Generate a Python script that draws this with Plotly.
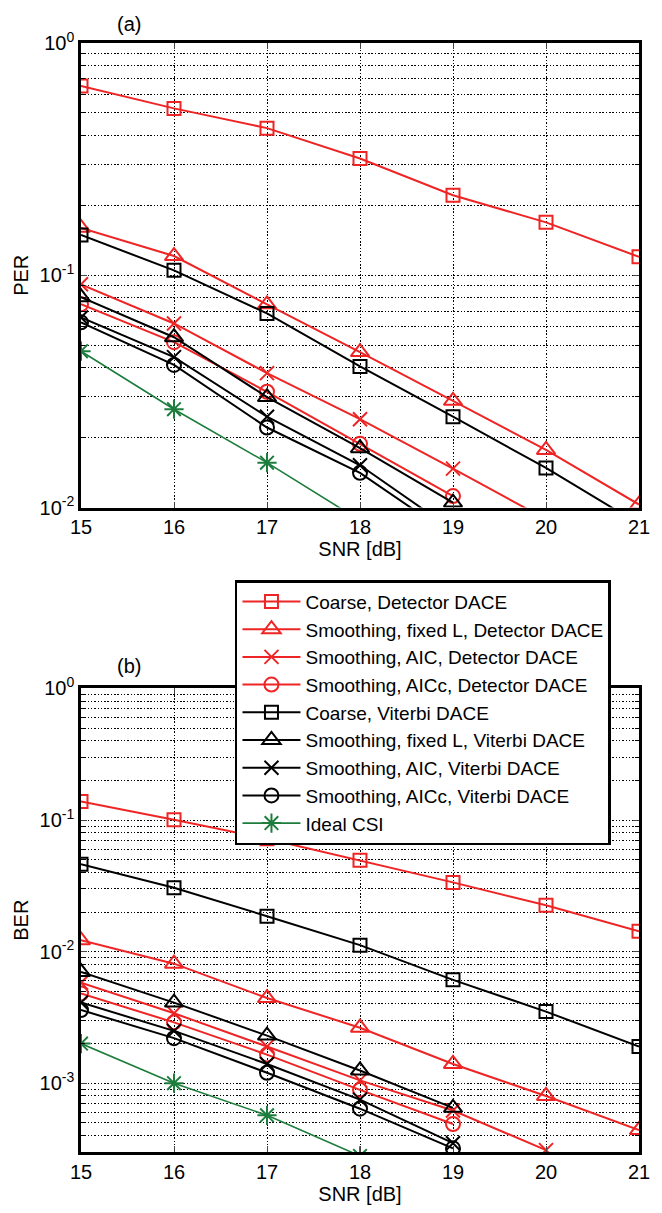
import numpy as np
import plotly.graph_objects as go

SNR = [15, 16, 17, 18, 19, 20, 21]

# PER (panel a)
per_coarse_det = [0.653, 0.523, 0.43, 0.318, 0.221, 0.169, 0.12]
per_fixedL_det = [0.16, 0.121, 0.075, 0.0467, 0.0288, 0.0177, 0.0103]
per_aic_det = [0.0914, 0.062, 0.0379, 0.024, 0.0147, 0.0089]
per_aicc_det = [0.075, 0.0515, 0.0315, 0.0188, 0.0112]
per_coarse_vit = [0.149, 0.105, 0.0685, 0.0405, 0.0246, 0.0148, 0.0085]
per_fixedL_vit = [0.0804, 0.0541, 0.0299, 0.018, 0.0105]
per_aic_vit = [0.0658, 0.0444, 0.0246, 0.0152, 0.008]
per_aicc_vit = [0.0627, 0.0411, 0.0221, 0.0141, 0.0075]
per_ideal = [0.0471, 0.0265, 0.0156, 0.0088]

# BER (panel b)
ber_coarse_det = [0.1386, 0.1007, 0.072, 0.0495, 0.0336, 0.0225, 0.0143]
ber_fixedL_det = [0.0122, 0.0081, 0.00444, 0.00264, 0.0014, 0.0008, 0.00044]
ber_aic_det = [0.0058, 0.0034, 0.0019, 0.00105, 0.00062, 0.00031]
ber_aicc_det = [0.0048, 0.0029, 0.00165, 0.00089, 0.00049]
ber_coarse_vit = [0.0462, 0.0306, 0.0186, 0.0112, 0.0061, 0.0035, 0.0019]
ber_fixedL_vit = [0.007, 0.0041, 0.0023, 0.00125, 0.00065]
ber_aic_vit = [0.0041, 0.0025, 0.0014, 0.00075, 0.00035]
ber_aicc_vit = [0.0036, 0.0022, 0.0012, 0.00064, 0.00032]
ber_ideal = [0.002, 0.001, 0.00057, 0.00028]

names = [
    "Coarse, Detector DACE",
    "Smoothing, fixed L, Detector DACE",
    "Smoothing, AIC, Detector DACE",
    "Smoothing, AICc, Detector DACE",
    "Coarse, Viterbi DACE",
    "Smoothing, fixed L, Viterbi DACE",
    "Smoothing, AIC, Viterbi DACE",
    "Smoothing, AICc, Viterbi DACE",
    "Ideal CSI",
]
RED = "#ee2524"
BLK = "#000000"
GRN = "#1c7d3c"
colors = [RED, RED, RED, RED, BLK, BLK, BLK, BLK, GRN]
symbols = ["square-open", "triangle-up-open", "x-thin-open", "circle-open",
           "square-open", "triangle-up-open", "x-thin-open", "circle-open", "asterisk-open"]
sizes = [13, 16, 14, 14, 13, 16, 14, 14, 16]

per_data = [per_coarse_det, per_fixedL_det, per_aic_det, per_aicc_det,
            per_coarse_vit, per_fixedL_vit, per_aic_vit, per_aicc_vit, per_ideal]
ber_data = [ber_coarse_det, ber_fixedL_det, ber_aic_det, ber_aicc_det,
            ber_coarse_vit, ber_fixedL_vit, ber_aic_vit, ber_aicc_vit, ber_ideal]

fig = go.Figure()
for i in range(9):
    lw = 2 if i != 8 else 1.6
    fig.add_trace(go.Scatter(
        x=SNR[:len(per_data[i])], y=per_data[i], mode="lines+markers",
        line=dict(color=colors[i], width=lw),
        marker=dict(symbol=symbols[i], size=sizes[i], color=colors[i],
                    line=dict(color=colors[i], width=2)),
        name=names[i], showlegend=False, xaxis="x", yaxis="y"))
for i in range(9):
    lw = 2 if i != 8 else 1.6
    fig.add_trace(go.Scatter(
        x=SNR[:len(ber_data[i])], y=ber_data[i], mode="lines+markers",
        line=dict(color=colors[i], width=lw),
        marker=dict(symbol=symbols[i], size=sizes[i], color=colors[i],
                    line=dict(color=colors[i], width=2)),
        name=names[i], showlegend=True,
        xaxis="x2", yaxis="y2"))

FONT = "Liberation Sans, Arial, sans-serif"
FS = 20
LFS = 19

def log_ticks(lo_exp, hi_exp, lo_val):
    major, text, minor = [], [], []
    for e in range(lo_exp, hi_exp + 1):
        for m in range(1, 10):
            v = m * 10.0 ** e
            if v < lo_val * 0.999 or v > 10.0 ** hi_exp * 1.001:
                continue
            if m == 1:
                major.append(v)
                text.append("10<sup>%d</sup>" % e)
            else:
                minor.append(v)
    return major, text, minor

tv1, tt1, mv1 = log_ticks(-2, 0, 0.01)
tv2, tt2, mv2 = log_ticks(-4, 0, 3e-4)

GRID = dict(showgrid=True, gridcolor="black", griddash="1.5px,1.8px", gridwidth=1.3)

common_x = dict(range=[15, 21], tickvals=SNR, ticks="inside", ticklen=6,
                showline=True, linecolor="black", linewidth=2.5, mirror="ticks",
                zeroline=False, tickfont=dict(size=FS, color="black", family=FONT),
                title=dict(text="SNR [dB]", font=dict(size=FS, color="black", family=FONT),
                           standoff=4), **GRID)
common_y = dict(type="log", ticks="inside", ticklen=6,
                showline=True, linecolor="black", linewidth=2.5, mirror="ticks",
                zeroline=False, tickfont=dict(size=FS, color="black", family=FONT), **GRID)

def minor_cfg(vals):
    return dict(tickvals=vals, ticks="inside", ticklen=4, tickcolor="black",
                showgrid=True, gridcolor="black", griddash="1.5px,1.8px", gridwidth=1.3)

H = 1213
t, b = 43, 51
ph = H - t - b

def py(pix):
    return (H - b - pix) / ph

fig.update_layout(
    width=662, height=H,
    margin=dict(l=81, r=12, t=t, b=b),
    paper_bgcolor="white", plot_bgcolor="white",
    font=dict(family=FONT, color="black", size=FS),
    xaxis=dict(common_x, domain=[0, 1], anchor="y"),
    yaxis=dict(common_y, domain=[py(511.7), 1.0], anchor="x", range=[-2, 0],
               tickvals=tv1, ticktext=tt1, minor=minor_cfg(mv1),
               title=dict(text="PER", standoff=6,
                          font=dict(size=FS, color="black", family=FONT))),
    xaxis2=dict(common_x, domain=[0, 1], anchor="y2"),
    yaxis2=dict(common_y, domain=[0, py(694.3)], anchor="x2",
                range=[np.log10(3e-4), 0], tickvals=tv2, ticktext=tt2,
                minor=minor_cfg(mv2),
                title=dict(text="BER", standoff=6,
                           font=dict(size=FS, color="black", family=FONT))),
    legend=dict(x=(238 - 81) / 569, y=py(585), xanchor="left", yanchor="top",
                bgcolor="white", bordercolor="black", borderwidth=2.5,
                font=dict(size=LFS, color="black", family=FONT),
                tracegroupgap=0, itemwidth=58),
    annotations=[
        dict(text="(a)", x=(130 - 81) / 569, y=py(23.5), xref="paper", yref="paper",
             xanchor="center", yanchor="middle",
             showarrow=False, font=dict(size=FS, color="black", family=FONT)),
        dict(text="(b)", x=(130 - 81) / 569, y=py(672), xref="paper", yref="paper",
             xanchor="center", yanchor="middle",
             showarrow=False, font=dict(size=FS, color="black", family=FONT)),
    ],
)

fig.write_html("out.html")
